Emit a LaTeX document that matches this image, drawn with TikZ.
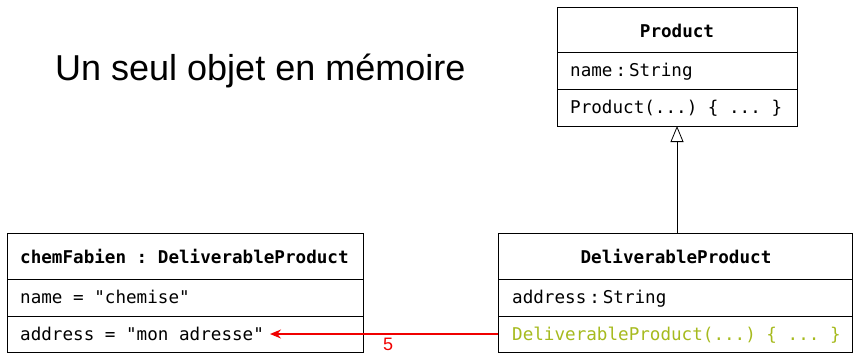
\documentclass[tikz,border=0pt]{standalone}
\usepackage{fontspec}
\setmainfont{Liberation Sans}
\setmonofont{DejaVu Sans Mono}
\usetikzlibrary{arrows.meta}
\definecolor{ctorgreen}{RGB}{166,186,30}
\definecolor{arrowred}{RGB}{240,0,0}
\begin{document}
\begin{tikzpicture}[x=1pt,y=-1pt,
  box/.style={draw,line width=0.9pt,inner sep=0pt,outer sep=0pt},
  sep/.style={line width=0.9pt},
  mono/.style={font=\fontsize{17.6}{20}\selectfont\ttfamily,inner sep=0pt,anchor=base west},
  monohead/.style={font=\fontsize{17.6}{20}\selectfont\ttfamily\bfseries,inner sep=0pt,anchor=base},
  inherit/.style={line width=0.8pt,-{Triangle[open,length=16pt,width=13pt,line width=0.8pt]}},
  link/.style={arrowred,line width=1.5pt,-{Stealth[length=11pt,width=9pt]}}]
\useasboundingbox (0,0) rectangle (853,354);
% title
\node[font=\fontsize{36}{40}\selectfont,inner sep=0pt,anchor=base west] (title) at (55,80) {Un seul objet en mémoire};
% Product class
\node[box,minimum width=240pt,minimum height=119pt] (prod) at (677,66.5) {};
\draw[sep] (557,52) -- (797,52);
\draw[sep] (557,89) -- (797,89);
\node[monohead] (prodname) at (677,37) {Product};
\node[mono] (prodattr) at (570,76) {name\,:\,String};
\node[mono] (prodctor) at (570,113) {Product(...) \{ ... \}};
% object
\node[box,minimum width=356pt,minimum height=119pt] (obj) at (185,292.5) {};
\draw[sep] (7,279) -- (363,279);
\draw[sep] (7,316) -- (363,316);
\node[mono,font=\fontsize{17.6}{20}\selectfont\ttfamily\bfseries] (objname) at (20,263) {chemFabien : DeliverableProduct};
\node[mono] (objname2) at (20,303) {name = "chemise"};
\node[mono] (objaddr) at (20,340) {address = "mon adresse"};
% DeliverableProduct class
\node[box,minimum width=354pt,minimum height=119pt] (dp) at (675,292.5) {};
\draw[sep] (498,279) -- (852,279);
\draw[sep] (498,316) -- (852,316);
\node[monohead] (dpname) at (676,263) {DeliverableProduct};
\node[mono] (dpattr) at (512,303) {address\,:\,String};
\node[mono,text=ctorgreen] (dpctor) at (512,340) {DeliverableProduct(...) \{ ... \}};
% inheritance
\draw[inherit] (dp.north -| prod.south) -- (prod.south);
% link
\coordinate (linkend) at (270,334);
\draw[link] (dp.west |- linkend) -- (linkend);
\node[text=arrowred,font=\fontsize{18}{20}\selectfont,inner sep=0pt,anchor=base] (five) at (388,350) {5};
\end{tikzpicture}
\end{document}
